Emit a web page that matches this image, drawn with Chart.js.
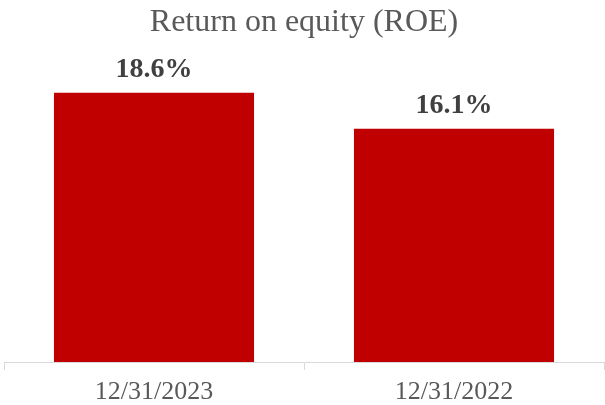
<!DOCTYPE html>
<html>
<head>
<meta charset="utf-8">
<script src="https://cdn.jsdelivr.net/npm/chart.js@4"></script>
<style>
  html, body { margin: 0; padding: 0; background: #fff; }
  #wrap { width: 605px; height: 405px; }
</style>
</head>
<body>
<div id="wrap"><canvas id="roeChart"></canvas></div>
<script>
const categories = ['12/31/2023', '12/31/2022'];
const roeValues = [18.6, 16.1];
const chartTitle = 'Return on equity (ROE)';

const serif = '"Liberation Serif", "Times New Roman", serif';

// draws the bold value above each bar
const valueLabels = {
    id: 'valueLabels',
    afterDatasetsDraw(chart) {
        const ctx = chart.ctx;
        const meta = chart.getDatasetMeta(0);
        ctx.save();
        ctx.font = 'bold 28px ' + serif;
        ctx.fillStyle = '#404040';
        ctx.textAlign = 'center';
        ctx.textBaseline = 'alphabetic';
        meta.data.forEach((bar, i) => {
            ctx.fillText(roeValues[i].toFixed(1) + '%', bar.x, bar.y - 16);
        });
        ctx.restore();
    }
};

const ctx = document.getElementById('roeChart').getContext('2d');
new Chart(ctx, {
    type: 'bar',
    data: {
        labels: categories,
        datasets: [{
            data: roeValues,
            backgroundColor: '#C00000',
            barPercentage: 0.667,
            categoryPercentage: 1.0
        }]
    },
    options: {
        responsive: true,
        maintainAspectRatio: false,
        animation: false,
        layout: { padding: { left: 4, right: 1, top: 0, bottom: -9 } },
        plugins: {
            legend: { display: false },
            tooltip: { enabled: false },
            title: {
                display: true,
                text: chartTitle,
                color: '#595959',
                font: { family: serif, size: 32, weight: 'normal', lineHeight: 1.2 },
                padding: { top: 3, bottom: 31 }
            }
        },
        scales: {
            x: {
                grid: {
                    display: true,
                    offset: true,
                    drawOnChartArea: false,
                    drawTicks: true,
                    tickLength: 8,
                    color: '#d9d9d9'
                },
                border: { display: true, color: '#d9d9d9', width: 1 },
                ticks: {
                    color: '#595959',
                    padding: 9,
                    font: { family: serif, size: 26, lineHeight: 1.0 }
                }
            },
            y: {
                display: false,
                min: 0,
                max: 20
            }
        }
    },
    plugins: [valueLabels]
});
</script>
</body>
</html>
